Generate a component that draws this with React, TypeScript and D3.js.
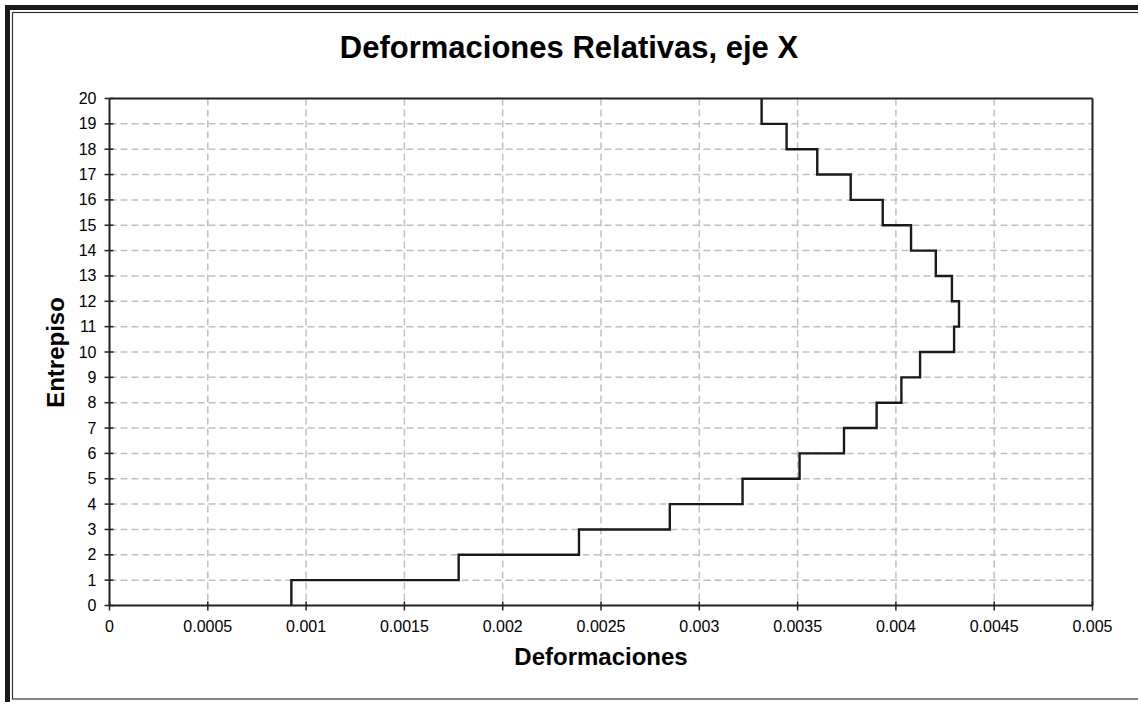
import React from "react";
import * as d3 from "d3";

const floors = [1, 2, 3, 4, 5, 6, 7, 8, 9, 10, 11, 12, 13, 14, 15, 16, 17, 18, 19, 20];
const drifts = [
  0.000925, 0.001776, 0.002388, 0.00285, 0.00322, 0.00351, 0.003736, 0.003902, 0.004028, 0.004123,
  0.004296, 0.004321, 0.004285, 0.004203, 0.004077, 0.003933, 0.00377, 0.0036, 0.003444, 0.003317,
];
const xTicks = [0, 0.0005, 0.001, 0.0015, 0.002, 0.0025, 0.003, 0.0035, 0.004, 0.0045, 0.005];
const yTicks = d3.range(0, 21);

const W = 1138;
const H = 702;
const M = { left: 109.5, right: 1092.5, top: 98.5, bottom: 605.5 };

export default function App() {
  const x = d3.scaleLinear().domain([0, 0.005]).range([M.left, M.right]);
  const y = d3.scaleLinear().domain([0, 20]).range([M.bottom, M.top]);

  const pts: [number, number][] = [];
  floors.forEach((f, i) => {
    pts.push([drifts[i], f - 1]);
    pts.push([drifts[i], f]);
  });
  const line = d3
    .line<[number, number]>()
    .x((d) => x(d[0]))
    .y((d) => y(d[1]));

  const font = "'Liberation Sans', Arial, sans-serif";

  return (
    <svg width={W} height={H} style={{ position: "absolute", left: 0, top: 0, background: "#fff" }}>
      <rect x={0} y={0} width={W} height={H} fill="#fff" />
      {/* outer frame */}
      <rect x={7.5} y={7.5} width={W + 10} height={H + 10} fill="none" stroke="#1a1a1a" strokeWidth={5} />
      <rect x={12.5} y={12.5} width={W} height={686.5} fill="none" stroke="#333" strokeWidth={1.2} />

      {/* title */}
      <text x={569} y={58} textAnchor="middle" fontFamily={font} fontWeight="bold" fontSize={31} fill="#000">
        Deformaciones Relativas, eje X
      </text>

      {/* grid */}
      <g stroke="#c0c0c0" strokeWidth={1.5} strokeDasharray="7,4">
        {yTicks.slice(1, -1).map((t) => (
          <line key={"gy" + t} x1={M.left} x2={M.right} y1={y(t)} y2={y(t)} />
        ))}
        {xTicks.slice(1, -1).map((t) => (
          <line key={"gx" + t} x1={x(t)} x2={x(t)} y1={M.top} y2={M.bottom} />
        ))}
      </g>

      {/* plot frame */}
      <g stroke="#222" strokeWidth={2} fill="none">
        <line x1={M.left} x2={M.right} y1={M.top} y2={M.top} />
        <line x1={M.right} x2={M.right} y1={M.top} y2={M.bottom} />
        <line x1={M.left} x2={M.right} y1={M.bottom} y2={M.bottom} />
        <line x1={M.left} x2={M.left} y1={M.top} y2={M.bottom} />
      </g>

      {/* ticks */}
      <g stroke="#222" strokeWidth={1.5}>
        {yTicks.map((t) => (
          <line key={"ty" + t} x1={M.left - 5} x2={M.left + 4} y1={y(t)} y2={y(t)} />
        ))}
        {xTicks.map((t) => (
          <line key={"tx" + t} x1={x(t)} x2={x(t)} y1={M.bottom - 4} y2={M.bottom + 5} />
        ))}
      </g>
      <g fontFamily={font} fontSize={16} fill="#000">
        {yTicks.map((t) => (
          <text key={"ly" + t} x={M.left - 13} y={y(t) + 5.5} textAnchor="end">
            {t}
          </text>
        ))}
        {xTicks.map((t) => (
          <text key={"lx" + t} x={x(t)} y={632} textAnchor="middle">
            {String(t)}
          </text>
        ))}
      </g>

      {/* data */}
      <path d={line(pts) || ""} fill="none" stroke="#1a1a1a" strokeWidth={2.4} />

      {/* axis titles */}
      <text x={601} y={665} textAnchor="middle" fontFamily={font} fontWeight="bold" fontSize={24} fill="#000">
        Deformaciones
      </text>
      <text
        transform={`translate(64,${352.5}) rotate(-90)`}
        textAnchor="middle"
        fontFamily={font}
        fontWeight="bold"
        fontSize={24}
        fill="#000"
      >
        Entrepiso
      </text>
    </svg>
  );
}
